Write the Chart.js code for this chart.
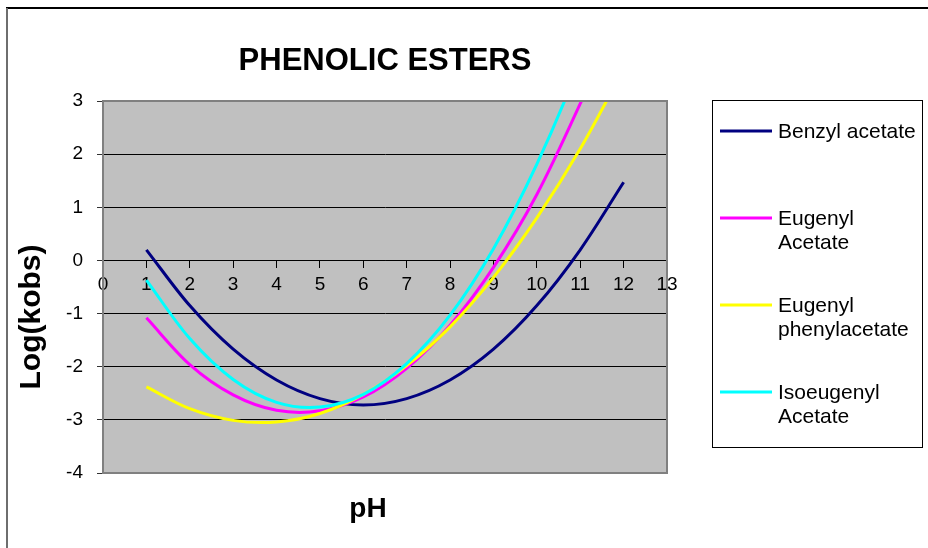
<!DOCTYPE html>
<html>
<head>
<meta charset="utf-8">
<title>Phenolic esters</title>
<script src="https://cdn.jsdelivr.net/npm/chart.js@4.4.1/dist/chart.umd.min.js"></script>
<style>
  html, body { margin: 0; padding: 0; background: #fff; }
  #wrap { width: 928px; height: 548px; }
</style>
</head>
<body>
<div id="wrap"><canvas id="chart" width="928" height="548"></canvas></div>
<script>
// pH values and log(kobs)
const pH = [1, 2, 3, 4, 5, 6, 7, 8, 9, 10, 11, 12];
const benzylAcetate        = [0.20, -0.85, -1.67, -2.25, -2.60, -2.72, -2.60, -2.25, -1.67, -0.85, 0.20, 1.47];
const eugenylAcetate       = [-1.08, -1.96, -2.53, -2.82, -2.83, -2.57, -2.03, -1.22, -0.13, 1.24, 2.95, 4.80];
const eugenylPhenylacetate = [-2.38, -2.79, -3.01, -3.04, -2.88, -2.52, -1.98, -1.25, -0.32, 0.80, 2.10, 3.60];
const isoeugenylAcetate    = [-0.37, -1.47, -2.24, -2.67, -2.76, -2.52, -1.94, -1.03, 0.22, 1.81, 3.73, 5.99];

const seriesNames  = ['Benzyl acetate', 'Eugenyl Acetate', 'Eugenyl phenylacetate', 'Isoeugenyl Acetate'];
const seriesColors = ['#000080', '#FF00FF', '#FFFF00', '#00FFFF'];
const seriesValues = [benzylAcetate, eugenylAcetate, eugenylPhenylacetate, isoeugenylAcetate];

const chartTitle = 'PHENOLIC ESTERS';
const xTitle = 'pH';
const yTitle = 'Log(kobs)';

const FONT = '"Liberation Sans", Arial, sans-serif';

// wrap legend text into lines no wider than maxW
function wrapText(ctx, text, maxW) {
    const words = text.split(' ');
    const lines = [];
    let cur = '';
    words.forEach(w => {
        const test = cur ? cur + ' ' + w : w;
        if (cur && ctx.measureText(test).width > maxW) {
            lines.push(cur);
            cur = w;
        } else {
            cur = test;
        }
    });
    if (cur) lines.push(cur);
    return lines;
}

const excelLook = {
    id: 'excelLook',
    beforeDraw(chart) {
        const { ctx, chartArea: a } = chart;
        ctx.save();
        ctx.fillStyle = '#fff';
        ctx.fillRect(0, 0, chart.width, chart.height);
        // outer chart border (only top/left visible)
        ctx.strokeStyle = '#000';
        ctx.lineWidth = 2;
        ctx.beginPath();
        ctx.moveTo(6, 8); ctx.lineTo(chart.width, 8);
        ctx.stroke();
        ctx.strokeStyle = '#6e6e6e';
        ctx.beginPath();
        ctx.moveTo(7, 8); ctx.lineTo(7, chart.height);
        ctx.stroke();
        // plot area
        ctx.fillStyle = '#C0C0C0';
        ctx.fillRect(a.left, a.top, a.right - a.left, a.bottom - a.top);
        ctx.restore();
    },
    afterDraw(chart) {
        const { ctx, chartArea: a } = chart;
        ctx.save();
        // plot area border
        ctx.strokeStyle = '#808080';
        ctx.lineWidth = 2;
        ctx.beginPath();
        ctx.moveTo(a.left, a.top);
        ctx.lineTo(a.right, a.top);
        ctx.lineTo(a.right, a.bottom);
        ctx.lineTo(a.left, a.bottom);
        ctx.stroke();

        // titles
        ctx.fillStyle = '#000';
        ctx.textAlign = 'center';
        ctx.textBaseline = 'alphabetic';
        ctx.font = 'bold 31px ' + FONT;
        ctx.fillText(chartTitle, (a.left + a.right) / 2, 70);
        ctx.font = 'bold 28px ' + FONT;
        ctx.fillText(xTitle, (a.left + a.right) / 2 - 17, 517);
        ctx.save();
        ctx.translate(40, 317);
        ctx.rotate(-Math.PI / 2);
        ctx.font = 'bold 30px ' + FONT;
        ctx.fillText(yTitle, 0, 0);
        ctx.restore();

        // legend box
        const box = { left: 712, top: 100, right: 922, bottom: 447 };
        ctx.fillStyle = '#fff';
        ctx.fillRect(box.left, box.top, box.right - box.left, box.bottom - box.top);
        ctx.strokeStyle = '#000';
        ctx.lineWidth = 1;
        ctx.strokeRect(box.left + 0.5, box.top + 0.5, box.right - box.left, box.bottom - box.top);
        ctx.font = '21px ' + FONT;
        ctx.textAlign = 'left';
        ctx.textBaseline = 'middle';
        chart.data.datasets.forEach((ds, i) => {
            const y = 131 + i * 87;
            ctx.strokeStyle = ds.borderColor;
            ctx.lineWidth = 3;
            ctx.beginPath();
            ctx.moveTo(720, y);
            ctx.lineTo(772, y);
            ctx.stroke();
            ctx.fillStyle = '#000';
            wrapText(ctx, ds.label, 142).forEach((line, k) => {
                ctx.fillText(line, 778, y + 1 + k * 24.5);
            });
        });
        ctx.restore();
    }
};

function buildDatasets() {
    return seriesNames.map((name, i) => ({
        label: name,
        data: pH.map((x, j) => ({ x: x, y: seriesValues[i][j] })),
        borderColor: seriesColors[i],
        backgroundColor: seriesColors[i],
        borderWidth: 3,
        pointRadius: 0,
        tension: 0.33,
        fill: false,
        clip: 0,
        order: seriesNames.length - i
    }));
}

document.addEventListener('DOMContentLoaded', () => {
    const ctx = document.getElementById('chart').getContext('2d');
    new Chart(ctx, {
        type: 'line',
        data: { datasets: buildDatasets() },
        options: {
            responsive: false,
            animation: false,
            layout: { padding: { left: 0, top: 101, right: 261, bottom: 75 } },
            plugins: {
                legend: { display: false },
                title: { display: false },
                tooltip: { enabled: false }
            },
            scales: {
                x: {
                    type: 'linear',
                    position: { y: 0 },
                    min: 0,
                    max: 13,
                    ticks: {
                        stepSize: 1,
                        color: '#000',
                        padding: 6,
                        maxRotation: 0,
                        autoSkip: false,
                        font: { family: FONT, size: 19 }
                    },
                    grid: { drawOnChartArea: false, tickLength: 7, tickColor: '#000' },
                    border: { color: '#000', width: 1 }
                },
                y: {
                    min: -4,
                    max: 3,
                    ticks: {
                        stepSize: 1,
                        color: '#000',
                        padding: 14,
                        font: { family: FONT, size: 19 }
                    },
                    grid: {
                        color: c => (c.tick && (c.tick.value === 3 || c.tick.value === -4)) ? 'rgba(0,0,0,0)' : '#000',
                        tickColor: '#333',
                        tickLength: 6,
                        lineWidth: 1
                    },
                    border: { color: '#808080', width: 2 },
                    afterFit: scale => { scale.width = 103; }
                }
            }
        },
        plugins: [excelLook]
    });
});
</script>
</body>
</html>
